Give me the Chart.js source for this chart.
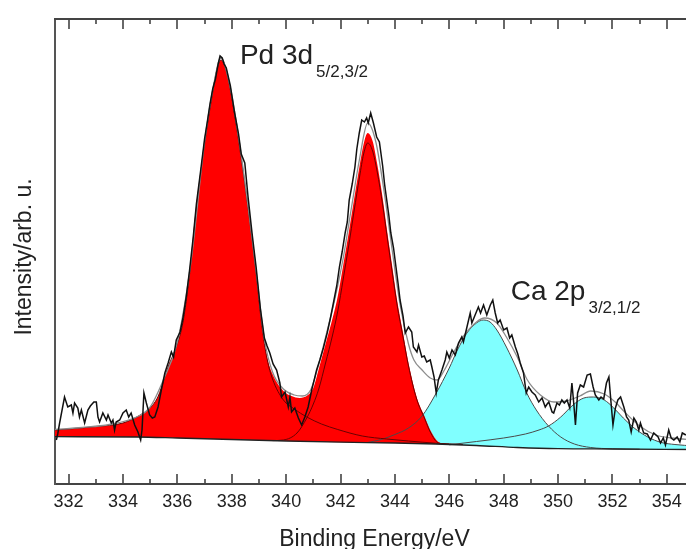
<!DOCTYPE html>
<html>
<head>
<meta charset="utf-8">
<script src="https://cdn.jsdelivr.net/npm/chart.js@4.4.1/dist/chart.umd.min.js"></script>
<style>
  html, body { margin: 0; padding: 0; background: #fff; overflow: hidden; }
  #wrap { width: 686px; height: 549px; overflow: hidden; }
</style>
</head>
<body>
<div id="wrap"><canvas id="xps" width="694" height="549"></canvas></div>
<script>
// tick labels on the energy axis
const xTickValues = [332, 334, 336, 338, 340, 342, 344, 346, 348, 350, 352, 354];

// background (Shirley-like) line
const bgE = [331.5, 334.5, 336, 338, 340, 342, 344, 345.5, 347, 348.5, 350, 352, 355];
const bgI = [47.3, 47, 46, 44.5, 43, 41.8, 41, 40, 38.5, 36.5, 35.3, 35, 34.5];

// Pd 3d sum (red area top)
const pdSumE = [331.5, 332, 333, 334, 334.7, 335, 335.3, 335.5, 335.7, 335.9, 336.2, 336.45, 336.7, 337, 337.3, 337.45, 337.6, 337.78, 337.95, 338.25, 338.6, 338.9, 339.1, 339.3, 339.5, 339.9, 340.2, 340.5, 340.8, 341, 341.2, 341.45, 341.7, 341.9, 342.1, 342.3, 342.5, 342.7, 342.85, 343, 343.18, 343.35, 343.55, 343.72, 343.9, 344.08, 344.3, 344.5, 344.8, 345.1, 345.3, 345.6, 345.9];
const pdSumI = [54, 55, 57.5, 61, 70, 76, 88, 104, 120, 133, 161, 210, 276, 340, 392, 414, 424, 415, 394, 344, 276, 210, 160, 127, 110, 93, 88, 86, 89, 96, 115, 140, 165, 188, 219, 251, 285, 318, 340, 351, 343, 320, 286, 252, 218, 184, 151, 121, 87, 67, 54, 42, 40];

// Pd 3d5/2 component
const pd1E = [331.5, 332, 333, 334, 334.7, 335, 335.3, 335.5, 335.7, 335.9, 336.2, 336.45, 336.7, 337, 337.3, 337.45, 337.6, 337.78, 337.95, 338.25, 338.6, 338.9, 339.1, 339.3, 339.5, 339.9, 340.3, 340.76, 341.3, 341.9, 342.8, 343.7, 344.5, 345.5, 346.5];
const pd1I = [54, 55, 57.5, 61, 70, 76, 88, 104, 120, 133, 161, 210, 276, 340, 392, 414, 424, 415, 394, 344, 276, 210, 160, 125, 105, 84, 75, 67, 60, 54.5, 48, 45, 43, 40.8, 39.5];

// Pd 3d3/2 component
const pd2E = [339.5, 339.9, 340.4, 340.76, 341, 341.2, 341.45, 341.7, 341.9, 342.1, 342.3, 342.5, 342.7, 342.85, 343, 343.18, 343.35, 343.55, 343.72, 343.9, 344.08, 344.3, 344.5, 344.8, 345.1, 345.3, 345.6, 346];
const pd2I = [43.4, 44, 51, 66, 80, 95, 121, 148, 173, 205, 238, 273, 307, 330, 341, 333, 312, 279, 246, 212, 179, 147, 118, 85, 65, 52, 41, 39.8];

// Ca 2p3/2 component
const ca1E = [343, 343.5, 344, 344.5, 345, 345.5, 346, 346.3, 346.65, 347, 347.25, 347.5, 347.75, 348.1, 348.5, 348.85, 349.2, 349.65, 350.1, 350.6, 351.2, 352, 353];
const ca1I = [41.5, 44.5, 49.5, 56, 68, 90, 116, 134, 151, 161, 164, 162, 154, 137, 114, 91, 74, 58, 47, 40, 36.5, 35.2, 34.8];

// Ca 2p1/2 component
const ca2E = [346, 347, 348, 348.8, 349.3, 349.65, 350.1, 350.55, 350.95, 351.3, 351.7, 352.05, 352.4, 352.8, 353.3, 353.8, 354.3, 355];
const ca2I = [39.2, 42.5, 46, 50, 54, 58, 67, 79, 86, 87, 84, 76, 66, 56, 47, 41.5, 39.5, 38];

// fitted envelope
const fitE = [331.5, 332.5, 333.5, 334.5, 335, 335.5, 336, 336.5, 337, 337.3, 337.6, 337.95, 338.3, 338.6, 338.9, 339.2, 339.5, 339.9, 340.3, 340.6, 340.9, 341.2, 341.5, 341.8, 342.1, 342.4, 342.7, 343, 343.3, 343.6, 343.9, 344.2, 344.5, 344.7, 345, 345.3, 345.55, 345.8, 346.15, 346.5, 347, 347.3, 347.75, 348.1, 348.5, 348.85, 349.35, 349.85, 350.3, 350.8, 351.2, 351.7, 352.1, 352.45, 353, 353.6, 354.2, 355];
const fitI = [54.5, 56.5, 59.5, 67, 77, 105, 142, 222, 342, 394, 426, 396, 338, 278, 212, 145, 112, 95, 89, 88, 94, 120, 152, 186, 226, 276, 325, 361, 342, 293, 234, 178, 140, 124, 114, 106, 104, 113, 131, 147, 162, 166, 161, 147, 127, 105, 89, 82, 83, 88, 93, 90, 82, 72, 58, 49, 46, 44];

// measured spectrum
const dataE = [331.55, 331.6, 331.67, 331.85, 331.97, 332.1, 332.16, 332.22, 332.34, 332.4, 332.47, 332.59, 332.71, 332.8, 332.93, 333.02, 333.08, 333.14, 333.26, 333.39, 333.45, 333.57, 333.63, 333.69, 333.75, 333.88, 334, 334.12, 334.21, 334.3, 334.43, 334.55, 334.65, 334.7, 334.77, 334.86, 334.98, 335.08, 335.17, 335.29, 335.41, 335.54, 335.66, 335.78, 335.86, 335.96, 336.1, 336.2, 336.33, 336.45, 336.58, 336.7, 336.85, 337, 337.1, 337.2, 337.3, 337.4, 337.5, 337.57, 337.65, 337.72, 337.8, 337.95, 338.1, 338.25, 338.35, 338.48, 338.6, 338.75, 338.9, 339.05, 339.2, 339.3, 339.4, 339.52, 339.65, 339.77, 339.83, 339.96, 340.08, 340.14, 340.2, 340.32, 340.45, 340.57, 340.69, 340.81, 340.94, 341.05, 341.12, 341.24, 341.37, 341.51, 341.63, 341.76, 341.86, 341.96, 342.06, 342.17, 342.25, 342.32, 342.43, 342.53, 342.6, 342.69, 342.78, 342.88, 342.96, 343.02, 343.11, 343.21, 343.33, 343.43, 343.55, 343.62, 343.7, 343.78, 343.85, 343.95, 344.04, 344.12, 344.19, 344.3, 344.38, 344.5, 344.62, 344.68, 344.81, 344.87, 344.99, 345.08, 345.17, 345.3, 345.36, 345.44, 345.52, 345.6, 345.73, 345.85, 345.91, 346, 346.1, 346.22, 346.34, 346.46, 346.52, 346.65, 346.77, 346.83, 346.95, 347.07, 347.15, 347.26, 347.38, 347.51, 347.6, 347.69, 347.78, 347.87, 348, 348.12, 348.22, 348.3, 348.43, 348.52, 348.61, 348.73, 348.83, 348.92, 349.04, 349.16, 349.29, 349.41, 349.53, 349.6, 349.66, 349.78, 349.84, 349.96, 350.05, 350.14, 350.23, 350.33, 350.43, 350.51, 350.58, 350.64, 350.72, 350.82, 350.94, 351.07, 351.19, 351.29, 351.37, 351.5, 351.58, 351.68, 351.78, 351.87, 351.95, 352.02, 352.11, 352.2, 352.3, 352.42, 352.52, 352.6, 352.69, 352.79, 352.88, 352.97, 353.03, 353.15, 353.28, 353.4, 353.52, 353.68, 353.77, 353.87, 353.95, 354.07, 354.16, 354.26, 354.38, 354.48, 354.57, 354.7];
const dataI = [44, 50, 61, 87, 77, 79, 71, 81, 76, 67, 74, 61, 74, 78, 82, 82, 67, 62, 71, 64, 69, 61, 64, 54, 62, 64, 71, 74, 67, 71, 59, 52, 44, 54, 91, 81, 69, 66, 67, 77, 94, 111, 121, 132, 127, 144, 152, 165, 188, 214, 246, 280, 312, 345, 362, 380, 395, 405, 420, 428, 426, 420, 416, 398, 372, 350, 330, 321, 287, 250, 216, 176, 146, 138, 131, 120, 114, 101, 87, 92, 77, 87, 72, 76, 66, 59, 67, 77, 94, 106, 114, 124, 136, 151, 166, 184, 198, 217, 232, 251, 262, 284, 300, 317, 335, 351, 364, 362, 366, 361, 371, 361, 347, 342, 318, 300, 284, 268, 251, 236, 217, 200, 184, 168, 151, 157, 152, 137, 132, 139, 127, 128, 122, 124, 117, 107, 91, 104, 114, 124, 132, 126, 134, 129, 141, 147, 142, 157, 171, 161, 169, 177, 171, 179, 169, 179, 184, 171, 161, 164, 154, 156, 146, 149, 137, 130, 121, 111, 91, 97, 92, 89, 82, 86, 77, 80, 82, 72, 71, 81, 79, 84, 81, 84, 76, 101, 80, 59, 91, 99, 97, 109, 110, 97, 89, 84, 87, 85, 101, 107, 81, 59, 76, 84, 87, 77, 67, 64, 52, 66, 62, 54, 61, 51, 50, 44, 51, 47, 41, 46, 39, 54, 46, 44, 47, 42, 51, 49];

const pts = (xs, ys) => xs.map((x, i) => ({ x: x, y: ys[i] }));

Chart.defaults.font.family = '"Liberation Sans", Arial, Helvetica, sans-serif';
Chart.defaults.color = '#222';

function lineSet(label, xs, ys, color, width, order, smooth) {
    return {
        label: label,
        data: pts(xs, ys),
        borderColor: color,
        borderWidth: width,
        pointRadius: 0,
        fill: false,
        order: order,
        tension: 0,
        cubicInterpolationMode: smooth ? 'monotone' : 'default'
    };
}

function areaSet(label, xs, ys, color, order) {
    return {
        label: label,
        data: pts(xs, ys),
        borderColor: 'rgba(0,0,0,0)',
        borderWidth: 0,
        backgroundColor: color,
        pointRadius: 0,
        fill: { target: 2 },
        order: order,
        cubicInterpolationMode: 'monotone'
    };
}

// frame top edge, inward ticks, y title and peak labels
const decor = {
    id: 'decor',
    afterDraw(chart) {
        const { ctx, chartArea: a, scales: { x, y } } = chart;
        ctx.save();
        ctx.strokeStyle = '#444';
        ctx.lineWidth = 2;
        ctx.beginPath();
        ctx.moveTo(a.left - 1, a.top);
        ctx.lineTo(a.right, a.top);
        ctx.stroke();

        ctx.lineWidth = 1.6;
        ctx.beginPath();
        for (let v = Math.ceil(x.min); v <= x.max; v++) {
            const px = Math.round(x.getPixelForValue(v));
            const len = v % 2 === 0 ? 10 : 5;
            ctx.moveTo(px, a.bottom);
            ctx.lineTo(px, a.bottom - len);
            ctx.moveTo(px, a.top);
            ctx.lineTo(px, a.top + len);
        }
        ctx.stroke();

        ctx.fillStyle = '#222';
        // y axis title
        ctx.save();
        ctx.translate(24.8, 257);
        ctx.rotate(-Math.PI / 2);
        ctx.font = '23px "Liberation Sans", Arial, sans-serif';
        ctx.textAlign = 'center';
        ctx.textBaseline = 'middle';
        ctx.fillText('Intensity/arb. u.', 0, 0);
        ctx.restore();

        // peak labels with subscripts
        const tag = (main, sub, ex, iy) => {
            const px = x.getPixelForValue(ex);
            const py = y.getPixelForValue(iy);
            ctx.textAlign = 'left';
            ctx.textBaseline = 'alphabetic';
            ctx.font = '28px "Liberation Sans", Arial, sans-serif';
            ctx.fillText(main, px, py);
            const w = ctx.measureText(main).width;
            ctx.font = '17px "Liberation Sans", Arial, sans-serif';
            ctx.fillText(sub, px + w + 3, py + 13);
        };
        tag('Pd 3d', '5/2,3/2', 338.3, 420);
        tag('Ca 2p', '3/2,1/2', 348.26, 184);
        ctx.restore();
    }
};

new Chart(document.getElementById('xps'), {
    type: 'line',
    data: {
        datasets: [
            lineSet('spectrum', dataE, dataI, '#111', 1.5, 0, false),
            lineSet('fit', fitE, fitI, '#8c8c8c', 1.3, 1, true),
            lineSet('background', bgE, bgI, '#222', 1.3, 2, true),
            lineSet('Pd 3d5/2', pd1E, pd1I, '#6a0000', 1, 3, true),
            lineSet('Pd 3d3/2', pd2E, pd2I, '#6a0000', 1, 3, true),
            lineSet('Ca 2p3/2', ca1E, ca1I, '#4a4a4a', 1, 3, true),
            lineSet('Ca 2p1/2', ca2E, ca2I, '#4a4a4a', 1, 3, true),
            areaSet('Pd area', pdSumE, pdSumI, 'rgb(255,0,0)', 4),
            areaSet('Ca 3/2 area', ca1E, ca1I, 'rgb(128,255,255)', 5),
            areaSet('Ca 1/2 area', ca2E, ca2I, 'rgb(128,255,255)', 5)
        ]
    },
    options: {
        responsive: false,
        animation: false,
        devicePixelRatio: 1,
        layout: { padding: { top: 19, right: 0, bottom: 0, left: 0 } },
        plugins: {
            legend: { display: false },
            tooltip: { enabled: false }
        },
        scales: {
            x: {
                type: 'linear',
                position: 'bottom',
                min: 331.5,
                max: 355,
                grid: { display: false, drawTicks: false },
                border: { display: true, color: '#444', width: 2 },
                ticks: {
                    font: { size: 18 },
                    color: '#222',
                    padding: 7,
                    maxRotation: 0,
                    autoSkip: false
                },
                afterBuildTicks: s => { s.ticks = xTickValues.map(v => ({ value: v })); },
                afterFit: s => { s.height = 65; },
                title: {
                    display: true,
                    text: 'Binding Energy/eV',
                    font: { size: 23 },
                    color: '#222',
                    padding: { top: 0, bottom: -4 }
                }
            },
            y: {
                type: 'linear',
                min: 0,
                max: 465,
                grid: { display: false, drawTicks: false },
                border: { display: true, color: '#555', width: 2 },
                ticks: { display: false },
                afterFit: s => { s.width = 55; }
            }
        }
    },
    plugins: [decor]
});
</script>
</body>
</html>
